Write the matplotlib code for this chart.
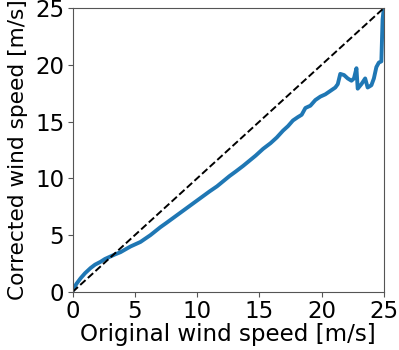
import matplotlib
matplotlib.use('Agg')
import matplotlib.pyplot as plt

# values
orig_speed = [0.0, 0.1, 0.3, 0.64, 1.0, 1.44, 1.8, 2.24, 2.6, 3.0, 3.4, 3.85, 4.25,
              4.65, 5.05, 5.45, 5.85, 6.25, 6.65, 7.05, 7.5, 8.0, 8.5, 9.0, 9.5,
              10.0, 10.5, 11.0, 11.6, 12.1, 12.6, 13.1, 13.7, 14.2, 14.7, 15.3,
              15.9, 16.4, 16.9, 17.3, 17.7, 18.1, 18.4, 18.7, 19.1, 19.5, 19.9,
              20.3, 20.7, 21.1, 21.3, 21.5, 21.8, 22.1, 22.4, 22.6, 22.8, 22.9,
              23.2, 23.5, 23.7, 24.0, 24.2, 24.4, 24.6, 24.8, 24.9, 25.0]
corr_speed = [0.1, 0.3, 0.7, 1.2, 1.65, 2.1, 2.4, 2.65, 2.9, 3.1, 3.3, 3.5, 3.75,
              4.0, 4.2, 4.4, 4.7, 5.0, 5.35, 5.7, 6.05, 6.45, 6.85, 7.25, 7.65,
              8.05, 8.45, 8.85, 9.3, 9.75, 10.2, 10.6, 11.1, 11.55, 12.0, 12.6,
              13.1, 13.6, 14.2, 14.6, 15.1, 15.4, 15.6, 16.2, 16.4, 16.9, 17.2,
              17.4, 17.7, 18.0, 18.3, 19.2, 19.1, 18.8, 18.6, 18.8, 19.7, 17.9,
              18.3, 18.8, 18.0, 18.2, 18.8, 19.8, 20.2, 20.3, 24.0, 25.0]

fig, ax = plt.subplots(figsize=(3.99, 3.5), dpi=100)
fig.subplots_adjust(left=0.182, right=0.962, bottom=0.166, top=0.977)

ax.plot(orig_speed, corr_speed, color='#1f77b4', lw=2.8)
ax.plot([0, 25], [0, 25], 'k--', lw=1.4)

ax.set_xlim(0, 25)
ax.set_ylim(0, 25)
ax.set_xticks([0, 5, 10, 15, 20, 25])
ax.set_yticks([0, 5, 10, 15, 20, 25])
ax.tick_params(labelsize=16.5, color='#555555', pad=2.5)
for sp in ax.spines.values():
    sp.set_color('#555555')
ax.set_xlabel('Original wind speed [m/s]', fontsize=16.6, labelpad=0)
ax.set_ylabel('Corrected wind speed [m/s]', fontsize=15.6, labelpad=5)

fig.savefig('out.png', dpi=100)
